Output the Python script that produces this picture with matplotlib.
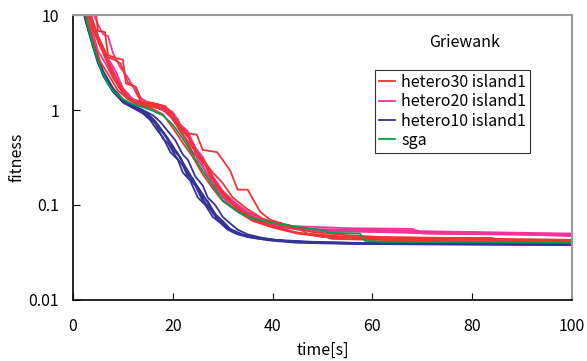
import matplotlib
matplotlib.use("Agg")
import matplotlib.pyplot as plt
from matplotlib.lines import Line2D

plt.rcParams['font.family'] = ['Noto Sans CJK JP', 'DejaVu Sans']

# hetero30 island1 runs (time, fitness)
red_runs = [
    ([3.5, 5, 7, 8.5, 9.5, 11, 12.5, 13.5, 15.5, 17, 18.5, 20, 22.8, 24.8, 26, 28.9, 31.5, 33, 35, 37.5, 39.5, 45, 47, 55, 70, 85, 100],
     [10.5, 6.0, 3.6, 3.35, 3.1, 1.95, 1.75, 1.22, 1.2, 1.15, 1.1, 0.88, 0.57, 0.55, 0.38, 0.36, 0.23, 0.145, 0.145, 0.085, 0.07, 0.057, 0.05, 0.046, 0.045, 0.044, 0.043]),
    ([2.5, 4, 5.5, 7, 9, 11, 13, 15, 17, 19, 21, 23, 24, 26, 28, 30, 32, 35, 38, 42, 48, 55, 62, 75, 84, 85, 100],
     [10.5, 5.5, 3.2, 2.4, 1.6, 1.3, 1.15, 1.1, 1.05, 0.95, 0.7, 0.55, 0.4, 0.3, 0.22, 0.17, 0.12, 0.09, 0.072, 0.06, 0.052, 0.048, 0.046, 0.045, 0.044, 0.041, 0.041]),
    ([3, 4.5, 6, 8, 10, 12, 14, 16, 18, 20, 22, 24, 26, 28, 30, 33, 36, 40, 45, 50, 52, 60, 70, 100],
     [10.5, 6.5, 4.2, 2.2, 1.5, 1.2, 1.1, 1.02, 0.9, 0.65, 0.45, 0.32, 0.21, 0.15, 0.11, 0.085, 0.068, 0.058, 0.05, 0.047, 0.044, 0.043, 0.042, 0.041]),
    ([4.6, 5, 6.4, 7, 8.6, 10, 10.6, 12.6, 14, 16.4, 17.5, 19, 20.5, 22, 24, 25.5, 27, 29, 31, 34, 38, 44, 52, 60, 80, 100],
     [10.5, 6.8, 6.6, 3.8, 3.5, 3.4, 1.9, 1.75, 1.18, 1.15, 1.05, 0.95, 0.72, 0.6, 0.45, 0.3, 0.25, 0.15, 0.115, 0.085, 0.065, 0.052, 0.046, 0.044, 0.043, 0.042]),
    ([3, 4, 5.5, 7, 9, 11, 13, 15, 16.5, 18, 20, 21, 22.5, 24, 26, 27.5, 29, 31, 33, 36, 40, 45, 50, 60, 84, 85, 100],
     [11, 7, 4.6, 3.2, 2.0, 1.35, 1.2, 1.12, 1.1, 1.0, 0.9, 0.65, 0.5, 0.35, 0.3, 0.2, 0.16, 0.12, 0.09, 0.07, 0.06, 0.051, 0.046, 0.045, 0.045, 0.042, 0.042]),
]

# hetero20 island1 runs
magenta_runs = [
    ([4, 5, 6, 7, 8, 9.5, 11, 13, 15, 17, 19, 21, 22, 24, 26, 28, 30, 33, 36, 40, 45, 55, 69, 70, 85, 100],
     [10.5, 8, 6.3, 6, 4, 2.8, 2.2, 1.4, 1.2, 1.15, 1.0, 0.8, 0.55, 0.4, 0.3, 0.2, 0.14, 0.1, 0.075, 0.062, 0.056, 0.055, 0.054, 0.05, 0.049, 0.048]),
    ([2.5, 4, 5, 6.5, 8, 10, 12, 14, 16, 18, 20, 21.5, 23, 24.5, 26, 27.5, 29, 31, 33, 36, 40, 45, 50, 60, 75, 100],
     [11, 6.5, 4.2, 3.1, 2.2, 1.5, 1.3, 1.2, 1.15, 1.1, 0.95, 0.7, 0.6, 0.4, 0.32, 0.22, 0.16, 0.12, 0.095, 0.075, 0.062, 0.055, 0.053, 0.052, 0.05, 0.049]),
    ([3, 4.5, 6, 7.5, 9, 11, 13, 15, 17, 18.5, 20, 22, 24, 25.5, 27, 29, 31, 34, 38, 43, 50, 58, 70, 85, 100],
     [11, 7, 4.5, 3.0, 2.0, 1.4, 1.2, 1.1, 1.05, 0.98, 0.8, 0.55, 0.36, 0.3, 0.2, 0.15, 0.11, 0.085, 0.068, 0.058, 0.054, 0.053, 0.051, 0.05, 0.047]),
    ([2.8, 4, 5.5, 7, 8.5, 10, 12, 14, 16, 18, 19.5, 21, 22.5, 24, 25, 27, 29, 31, 34, 37, 42, 48, 60, 100],
     [11, 7.5, 4.8, 3.5, 2.6, 1.7, 1.3, 1.15, 1.1, 1.0, 0.85, 0.72, 0.5, 0.42, 0.3, 0.21, 0.14, 0.105, 0.08, 0.067, 0.058, 0.055, 0.054, 0.05]),
    ([3.2, 5, 6.5, 8, 10, 12, 14, 16, 18, 20, 22, 24, 26, 28, 30, 32, 35, 38, 44, 55, 68, 69, 100],
     [11, 5.5, 3.5, 2.4, 1.6, 1.3, 1.18, 1.12, 1.05, 0.9, 0.62, 0.45, 0.3, 0.2, 0.14, 0.11, 0.085, 0.07, 0.06, 0.057, 0.056, 0.052, 0.049]),
]

# hetero10 island1 runs
blue_runs = [
    ([2, 3, 4, 5, 6.5, 8.5, 10, 12, 14, 15.5, 17, 18.5, 20, 21.5, 23, 24.5, 26, 27.5, 29, 30.5, 32, 34, 37, 40, 45, 50, 60, 80, 100],
     [12, 8, 5, 3.4, 2.2, 1.55, 1.25, 1.1, 0.98, 0.86, 0.7, 0.55, 0.42, 0.31, 0.23, 0.17, 0.13, 0.095, 0.075, 0.062, 0.053, 0.048, 0.045, 0.043, 0.041, 0.040, 0.039, 0.0385, 0.038]),
    ([1.8, 3, 4, 5, 6, 8, 10, 12, 14, 15.5, 17, 18, 19.5, 21, 22, 23.5, 25, 26.5, 28, 29.5, 31, 33, 36, 40, 45, 55, 70, 100],
     [12, 7, 4.6, 3.1, 2.4, 1.6, 1.2, 1.05, 0.92, 0.78, 0.6, 0.52, 0.36, 0.3, 0.22, 0.18, 0.12, 0.1, 0.075, 0.065, 0.055, 0.049, 0.045, 0.042, 0.04, 0.039, 0.0385, 0.038]),
    ([2.2, 3, 4, 5, 6, 8, 10, 12, 14, 16, 17.5, 19, 20.5, 22, 23, 24.5, 26, 27, 28.5, 30, 31.5, 33, 35, 38, 42, 50, 60, 100],
     [12, 8.5, 5.5, 3.6, 2.6, 1.7, 1.3, 1.12, 1.0, 0.88, 0.75, 0.6, 0.48, 0.34, 0.3, 0.2, 0.16, 0.12, 0.1, 0.075, 0.064, 0.055, 0.049, 0.045, 0.042, 0.040, 0.039, 0.0385]),
    ([2, 3, 4, 5, 6, 7.5, 9, 11, 13, 15, 16.5, 18, 19, 20.5, 22, 23, 24.5, 26, 27.5, 29, 30.5, 32, 35, 39, 45, 55, 100],
     [13, 8, 4.8, 3.2, 2.4, 1.8, 1.4, 1.15, 1.02, 0.85, 0.72, 0.5, 0.45, 0.33, 0.26, 0.2, 0.16, 0.11, 0.09, 0.07, 0.06, 0.052, 0.046, 0.043, 0.041, 0.04, 0.039]),
    ([2.1, 3, 4, 5, 6, 8, 10, 12, 14, 16, 17.5, 19, 20, 21.5, 23, 24, 25.5, 27, 28.5, 30, 31.5, 34, 37, 42, 50, 65, 100],
     [12, 7.8, 5.2, 3.5, 2.5, 1.6, 1.28, 1.1, 0.95, 0.8, 0.62, 0.5, 0.38, 0.32, 0.21, 0.19, 0.13, 0.11, 0.08, 0.068, 0.056, 0.049, 0.045, 0.042, 0.04, 0.039, 0.0385]),
    ([1.9, 3, 4, 5, 6, 8, 10, 12, 13.5, 15, 16.5, 18, 19.5, 21, 22.5, 24, 25, 26.5, 28, 29.5, 31, 33, 36, 40, 48, 60, 100],
     [12, 7.2, 4.9, 3.3, 2.3, 1.55, 1.22, 1.08, 0.97, 0.9, 0.76, 0.58, 0.44, 0.35, 0.25, 0.18, 0.15, 0.105, 0.085, 0.066, 0.057, 0.05, 0.046, 0.043, 0.041, 0.0395, 0.0385]),
]

# sga
green_t = [2.4, 3, 4, 5, 6, 7, 8, 10, 12, 14, 16, 18, 20, 22, 24, 25.5, 28, 30, 33, 36, 40, 44, 48, 50.5, 51, 57.5, 58.5, 62, 100]
green_f = [10.5, 7.5, 4.8, 3.3, 2.4, 1.9, 1.6, 1.3, 1.15, 1.07, 0.98, 0.88, 0.7, 0.5, 0.34, 0.25, 0.16, 0.112, 0.085, 0.072, 0.065, 0.06, 0.056, 0.054, 0.051, 0.05, 0.042, 0.041, 0.040]

names = ['hetero30 island1', 'hetero20 island1', 'hetero10 island1', 'sga']
colors = ['#ee3333', '#ee3399', '#333399', '#00a04a']

fig = plt.figure(figsize=(5.87, 3.61), dpi=100)
ax = fig.add_axes([0.1244, 0.169, 0.85, 0.7894])

for t, f in blue_runs:
    ax.plot(t, f, color=colors[2], lw=1.3)
for t, f in magenta_runs:
    ax.plot(t, f, color=colors[1], lw=1.3)
for t, f in red_runs:
    ax.plot(t, f, color=colors[0], lw=1.3)
ax.plot(green_t, green_f, color=colors[3], lw=1.3)

ax.set_yscale('log')
ax.set_xlim(0, 100)
ax.set_ylim(0.01, 10)
ax.set_yticks([0.01, 0.1, 1, 10])
ax.set_yticklabels(['0.01', '0.1', '1', '10'])
ax.minorticks_off()
ax.set_xticks([0, 20, 40, 60, 80, 100])
ax.tick_params(direction='in', length=5, labelsize=11.5)
ax.tick_params(axis='y', pad=10)
ax.tick_params(axis='x', pad=13)
ax.set_xlabel('time[s]', fontsize=11.5, labelpad=5)
ax.set_ylabel('fitness', fontsize=11.5, labelpad=2)

for s in ['top', 'right']:
    ax.spines[s].set_color('#999999')
    ax.spines[s].set_linewidth(1.5)
for s in ['left', 'bottom']:
    ax.spines[s].set_linewidth(1.2)

handles = [Line2D([], [], color=c, lw=1.3) for c in colors]
leg = ax.legend(handles, names, loc='lower left', bbox_to_anchor=(0.605, 0.516),
                fontsize=11.5, frameon=True, fancybox=False, handlelength=1.0,
                handletextpad=0.4, borderpad=0.25, labelspacing=0.15,
                borderaxespad=0)
leg.get_frame().set_edgecolor('black')
leg.get_frame().set_linewidth(0.8)

ax.text(0.785, 0.905, 'Griewank', transform=ax.transAxes, ha='center',
        va='center', fontsize=11.5)

fig.savefig('out.png', dpi=100)
